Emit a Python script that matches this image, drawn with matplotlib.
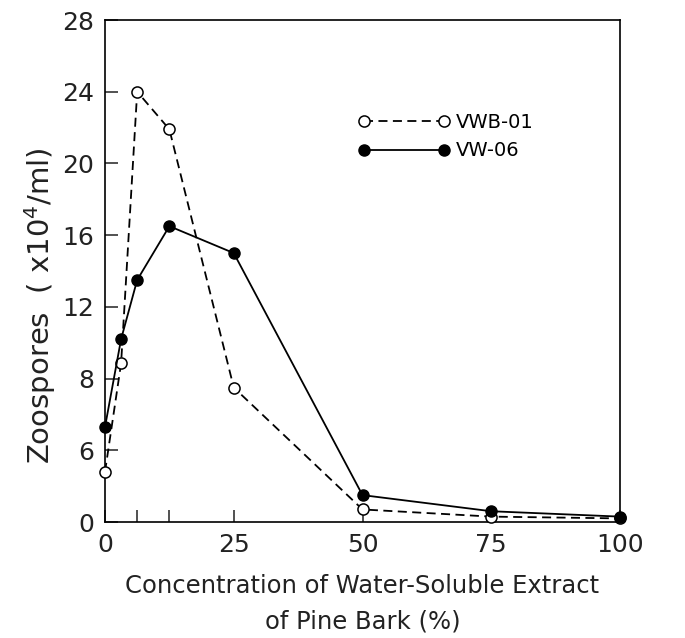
import matplotlib
matplotlib.use("Agg")
import matplotlib.pyplot as plt

conc = [0, 3.125, 6.25, 12.5, 25, 50, 75, 100]
vwb01 = [2.8, 8.85, 24.0, 21.9, 7.5, 0.7, 0.3, 0.2]
vw06 = [5.3, 10.2, 13.5, 16.5, 15.0, 1.5, 0.6, 0.3]

xticks = [0, 25, 50, 75, 100]
xminor = [6.25, 12.5]
yticks = [0, 4, 8, 12, 16, 20, 24, 28]
ytick_labels = ["0", "6", "8", "12", "16", "20", "24", "28"]

plt.rcParams['font.family'] = ['DejaVu Sans']
fig = plt.figure(figsize=(6.85, 6.38), dpi=100)
ax = fig.add_axes([105/685, 1 - 522/638, (620-105)/685, (522-20)/638])

ax.plot(conc, vwb01, linestyle=(0, (5, 3)), color='black', linewidth=1.3,
        marker='o', markersize=8, markerfacecolor='white', markeredgecolor='black',
        markeredgewidth=1.1, label='VWB-01', zorder=3, clip_on=False)
ax.plot(conc, vw06, linestyle='-', color='black', linewidth=1.3,
        marker='o', markersize=8, markerfacecolor='black', markeredgecolor='black',
        label='VW-06', zorder=3, clip_on=False)

ax.set_xlim(0, 100)
ax.set_ylim(0, 28)
ax.set_xticks(xticks)
ax.set_xticks(xminor, minor=True)
ax.set_yticks(yticks)
ax.set_yticklabels(ytick_labels)
ax.tick_params(axis='both', which='both', direction='in', labelsize=18, width=1.1,
               top=False, right=False, colors='#222222', labelcolor='#222222')
ax.tick_params(axis='both', which='major', length=9)
ax.tick_params(axis='x', which='minor', length=9)
ax.tick_params(axis='x', pad=8)
ax.tick_params(axis='y', pad=8)
for s in ax.spines.values():
    s.set_linewidth(1.2)

ax.set_xlabel("Concentration of Water-Soluble Extract\nof Pine Bark (%)",
              fontsize=17.5, linespacing=1.6, labelpad=12, color='#222222')
ax.set_ylabel("Zoospores  ( x10$^{4}$/ml)", fontsize=21, color='#222222',
              va='center', ha='center')
ax.yaxis.set_label_coords(-0.126, 0.432)

ax.legend(loc='center left', bbox_to_anchor=(0.458, 0.768), frameon=False,
          fontsize=14, handlelength=4.7, handletextpad=0.3, labelspacing=0.5,
          numpoints=2)

fig.savefig("out.png", dpi=100)
